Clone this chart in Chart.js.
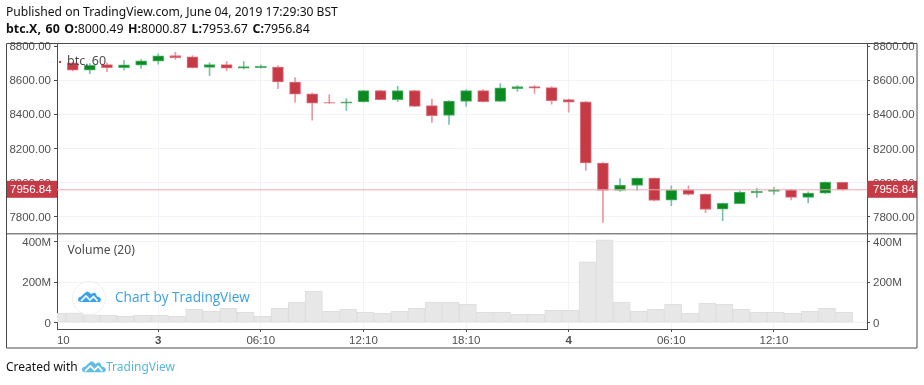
<!DOCTYPE html>
<html>
<head>
<meta charset="utf-8">
<style>
html,body{margin:0;padding:0;background:#fff;width:924px;height:385px;overflow:hidden}
#wrap{position:relative;width:924px;height:385px}
canvas{position:absolute;left:0;top:0}
.t{position:absolute;white-space:nowrap;font-family:"Noto Sans",sans-serif;color:#111;line-height:16px}
.t b{font-weight:700}
.lg{color:#4c4c4c}
svg{position:absolute}
</style>
</head>
<body>
<div id="wrap">
<canvas id="c" width="924" height="385"></canvas>
<div class="t" style="left:6px;top:4px;font-size:12.1px">Published on TradingView.com, June 04, 2019 17:29:30 BST</div>
<div class="t" style="left:6px;top:21px;font-size:12.4px;word-spacing:1.4px"><b>btc.X, 60</b>&nbsp;<b>O:</b>8000.49 <b>H:</b>8000.87 <b>L:</b>7953.67 <b>C:</b>7956.84</div>
<div class="t lg" style="left:67px;top:53px;font-size:12.5px">btc, 60</div>
<div class="t lg" style="left:67.5px;top:242px;font-size:12.1px">Volume (20)</div>
<div style="position:absolute;left:72px;top:281px;width:32px;height:32px;border:1px solid #eee;border-radius:50%;background:rgba(255,255,255,.6)"></div>
<svg style="left:77.5px;top:291px" width="23" height="11" viewBox="0 0 23 11"><path d="M3 11 C-1 11 -1 6 3 5.5 L8 1 Q9 0 10.5 1 L13 3 L15 2 Q17 1 18 3 L19 5.5 C24 6 24 11 20 11 Z" fill="#3ba3e8"/><polyline points="3,10 8,5 12,9 15.5,5.5 19.5,10" fill="none" stroke="#fff" stroke-width="1.6"/></svg>
<div class="t" style="left:115px;top:289px;font-size:13.6px;color:#3a9fe2;font-family:'Open Sans',sans-serif">Chart by TradingView</div>
<div class="t" style="left:6px;top:359px;font-size:12px">Created with</div>
<svg style="left:82px;top:360px" width="24" height="13" viewBox="0 0 23 11"><path d="M3 11 C-1 11 -1 6 3 5.5 L8 1 Q9 0 10.5 1 L13 3 L15 2 Q17 1 18 3 L19 5.5 C24 6 24 11 20 11 Z" fill="#62bde4"/><polyline points="3,10 8,5 12,9 15.5,5.5 19.5,10" fill="none" stroke="#fff" stroke-width="1.6"/></svg>
<div class="t" style="left:106px;top:359px;font-size:12px;color:#58b8dd">TradingView</div>
</div>
<script src="https://cdn.jsdelivr.net/npm/chart.js@4/dist/chart.umd.js"></script>
<script>
const opens  = [8702,8659,8692,8674,8688,8712,8745,8737,8676,8692,8671,8674,8678,8590,8520,8469,8465,8473,8539,8486,8539,8451,8394,8476,8539,8476,8551,8563,8557,8486,8473,8114,7953,7982,8025,7896,7957,7931,7843,7876,7939,7947,7957,7912,7937,8000.49];
const highs  = [8705,8698,8702,8716,8722,8755,8765,8745,8702,8710,8710,8690,8686,8616,8525,8516,8492,8541,8541,8565,8541,8490,8480,8545,8545,8580,8569,8569,8563,8490,8476,8116,8023,8027,8027,7980,7980,7933,7880,7951,7966,7972,7959,7945,8004,8000.87];
const lows   = [8655,8639,8651,8659,8669,8694,8722,8671,8627,8657,8667,8671,8551,8471,8365,8465,8423,8471,8484,8474,8445,8353,8341,8447,8471,8474,8535,8523,8459,8412,8070,7765,7947,7953,7892,7863,7925,7823,7776,7874,7912,7929,7898,7880,7935,7953.67];
const closes = [8659,8688,8674,8690,8714,8743,8733,8674,8692,8671,8680,8682,8590,8518,8465,8465,8474,8539,8486,8539,8447,8392,8478,8539,8474,8555,8563,8553,8480,8471,8114,7953,7984,8025,7894,7955,7929,7841,7878,7943,7949,7957,7912,7937,8002,7956.84];
const volumeBefore = 46;
const volumes = [48,38,36,31,36,36,31,66,56,71,51,31,71,101,155,56,66,51,46,56,71,101,101,91,51,51,41,41,61,61,299,408,101,56,66,91,46,96,91,66,51,51,46,56,71,51];
const priceTicks = [7800,8000,8200,8400,8600,8800];
const volumeTicks = [0,200,400];
const timeTickIndex = [-0.55,5,11,17,23,29,35,41];
const timeTickLabels = ['10','3','06:10','12:10','18:10','4','06:10','12:10'];
const dayLabels = ['3','4'];
const lastClose = closes[closes.length-1];

const XMIN=-0.92, XMAX=46.44, VOL_SHIFT=0.1;
const INK='#4a4a4a', GRID='#f1f3f9', RED='#c63a46', GREEN='#0a8a1f';
const up=i=>closes[i]>=opens[i];
const setTicks=arr=>s=>{s.ticks=arr.map(value=>({value}));};
const tickFont={family:'"Liberation Sans",Arial,sans-serif',size:11.5};

function yAxis(pos,stackName,weight,min,max,ticks,fmt,w,grid){
  return {type:'linear',position:pos,stack:stackName,stackWeight:weight,min,max,
    afterBuildTicks:setTicks(ticks),
    afterFit:s=>{s.width=w;},
    border:{color:INK,width:1},
    grid:{display:true,drawOnChartArea:grid,color:GRID,tickColor:INK,tickLength:3},
    ticks:{color:'#505050',font:tickFont,padding:3,labelOffset:1,autoSkip:false,callback:fmt}};
}
const priceFmt=v=>Number(v).toFixed(2);
const volFmt=v=>v===0?'0':v+'M';

const paneLines={id:'paneLines',
  afterDraw(c){
    const g=c.ctx,a=c.chartArea,y=c.scales.price.getPixelForValue(lastClose);
    g.save();
    g.fillStyle=RED;
    g.fillRect(6,y-9,a.left-6,17);
    g.fillRect(a.right,y-9,917-a.right,17);
    g.fillStyle='#fff';
    g.font='11.5px "Liberation Sans",Arial,sans-serif';
    g.textBaseline='middle';g.textAlign='left';
    g.fillText(lastClose.toFixed(2),10,y+0.5);
    g.fillText(lastClose.toFixed(2),873,y+0.5);
    g.strokeStyle=INK;g.lineWidth=1;
    g.beginPath();
    g.moveTo(6,c.scales.vol.top+0.5);g.lineTo(917,c.scales.vol.top+0.5);
    g.rect(6.5,43.5,910.5,304.5);
    g.stroke();
    g.fillStyle=RED;
    g.fillRect(59,61,2,2);
    g.restore();
  }};

new Chart(document.getElementById('c'),{
  data:{datasets:[
    {type:'line',xAxisID:'x',yAxisID:'price',order:0,
     data:[{x:XMIN,y:lastClose},{x:XMAX,y:lastClose}],
     borderColor:'#efa9b1',borderWidth:1,pointRadius:0},
    {type:'bar',xAxisID:'x',yAxisID:'price',order:1,grouped:false,barThickness:11,
     data:opens.map((o,i)=>({x:i,y:[o,closes[i]]})),
     backgroundColor:c=>up(c.dataIndex)?GREEN:RED,
     borderColor:c=>up(c.dataIndex)?'#4fb56f':'#e0707e',
     borderWidth:1,borderSkipped:false},
    {type:'bar',xAxisID:'x',yAxisID:'price',order:2,grouped:false,barThickness:1,
     data:lows.map((l,i)=>({x:i,y:[l,highs[i]]})),
     backgroundColor:c=>up(c.dataIndex)?'#7cc0a8':'#eb97a2',borderWidth:0},
    {type:'bar',xAxisID:'xVol',yAxisID:'vol',order:3,grouped:false,barThickness:17.07,
     data:[{x:-1,y:volumeBefore}].concat(volumes.map((v,i)=>({x:i,y:v}))),
     backgroundColor:'#e7e7e7',borderColor:'#dedede',borderWidth:1,borderSkipped:false}
  ]},
  options:{
    responsive:false,animation:false,
    layout:{padding:{left:6,right:7,top:43,bottom:37}},
    plugins:{legend:{display:false},tooltip:{enabled:false},title:{display:false}},
    scales:{
      x:{type:'linear',position:'bottom',offset:false,min:XMIN,max:XMAX,
         afterBuildTicks:setTicks(timeTickIndex),
         afterFit:s=>{s.height=19;},
         border:{color:INK,width:1},
         grid:{offset:false,color:c=>c.index===0?'transparent':GRID,tickColor:c=>c.index===0?'transparent':INK,tickLength:3},
         ticks:{color:'#505050',autoSkip:false,maxRotation:0,padding:2,
           font:c=>({...tickFont,weight:dayLabels.includes(timeTickLabels[c.index])?'bold':'normal'}),
           callback:(v,i)=>timeTickLabels[i]}},
      xVol:{type:'linear',display:false,offset:false,min:XMIN-VOL_SHIFT,max:XMAX-VOL_SHIFT,grid:{offset:false}},
      vol:yAxis('left','L',95.5,-31.1,439.5,volumeTicks,volFmt,51,true),
      price:yAxis('left','L',190,7701.2,8818.8,priceTicks,priceFmt,51,true),
      priceR:yAxis('right','R',190,7701.2,8818.8,priceTicks,priceFmt,50,false),
      volR:yAxis('right','R',95.5,-31.1,439.5,volumeTicks,volFmt,50,false)
    }
  },
  plugins:[paneLines]
});
</script>
</body>
</html>
